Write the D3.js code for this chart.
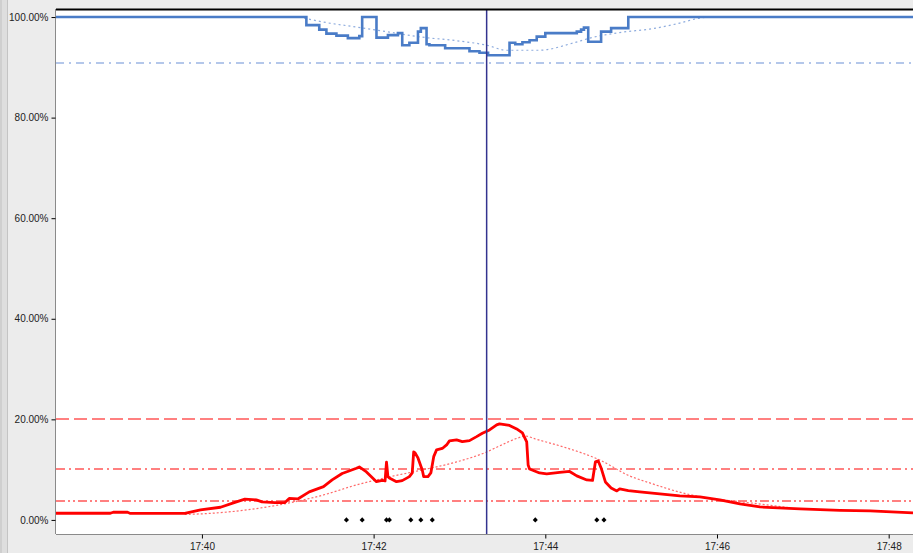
<!DOCTYPE html>
<html><head><meta charset="utf-8">
<script src="https://cdn.jsdelivr.net/npm/d3@7/dist/d3.min.js"></script>
<style>
html,body{margin:0;padding:0;background:#ececec;}
svg{display:block;font-family:"Liberation Sans",Arial,sans-serif;}
</style></head>
<body>
<svg id="chart" width="913" height="553"></svg>
<script>
// ---- data ----
const yTicks = [0, 20, 40, 60, 80, 100];
const xTickLabels = ["17:40", "17:42", "17:44", "17:46", "17:48"];
const timeDomain = ["17:38:18", "17:48:17"];
const cursorTime = "17:43:19";

// blue series (step)
const blueTimes = ["17:38:18","17:41:13","17:41:22","17:41:27","17:41:34","17:41:42","17:41:50","17:41:52","17:42:02","17:42:10","17:42:17","17:42:20","17:42:25","17:42:31","17:42:33","17:42:37","17:42:39","17:42:50","17:43:07","17:43:14","17:43:20","17:43:35","17:43:39","17:43:44","17:43:49","17:43:54","17:44:00","17:44:22","17:44:25","17:44:27","17:44:30","17:44:39","17:44:46","17:44:58","17:48:17"];
const blueValues = [100,98.4,97.5,96.7,96.3,95.8,96.2,100,95.9,96.4,96.8,94.4,94.9,97.1,97.8,94.6,94.4,93.8,93.2,92.9,92.4,94.9,94.6,95.0,95.4,96.1,96.8,97.1,97.5,97.9,95.1,97.1,97.8,100,100];

// blue trend (dotted)
const blueTrendTimes = ["17:41:08","17:41:25","17:41:48","17:42:11","17:42:34","17:42:58","17:43:19","17:43:33","17:43:56","17:44:19","17:44:31","17:44:54","17:45:13","17:45:34","17:45:48","17:45:55"];
const blueTrendValues = [100,99.0,98.0,97.0,96.0,95.3,94.4,93.4,93.4,94.8,95.8,97.0,97.6,98.8,99.8,100];

// red series
const redTimes = ["17:38:18","17:38:56","17:38:58","17:39:08","17:39:10","17:39:48","17:39:59","17:40:13","17:40:22","17:40:30","17:40:38","17:40:42","17:40:51","17:40:58","17:41:01","17:41:07","17:41:15","17:41:25","17:41:31","17:41:38","17:41:48","17:41:50","17:41:55","17:42:02","17:42:06","17:42:08","17:42:09","17:42:10","17:42:11","17:42:16","17:42:20","17:42:25","17:42:27","17:42:28","17:42:29","17:42:31","17:42:34","17:42:35","17:42:38","17:42:40","17:42:42","17:42:44","17:42:48","17:42:51","17:42:53","17:42:58","17:43:02","17:43:07","17:43:12","17:43:16","17:43:21","17:43:26","17:43:28","17:43:35","17:43:40","17:43:44","17:43:47","17:43:48","17:43:49","17:43:56","17:44:01","17:44:10","17:44:17","17:44:22","17:44:29","17:44:33","17:44:35","17:44:37","17:44:39","17:44:42","17:44:46","17:44:50","17:44:52","17:44:58","17:45:06","17:45:20","17:45:34","17:45:48","17:46:02","17:46:16","17:46:30","17:46:58","17:47:26","17:47:47","17:48:17"];
const redValues = [1.33,1.33,1.53,1.53,1.29,1.29,1.99,2.52,3.38,4.12,3.98,3.58,3.44,3.44,4.27,4.17,5.57,6.62,7.95,9.24,10.28,10.54,9.54,7.61,7.85,7.75,11.5,8.6,8.35,7.61,7.81,8.61,9.34,13.52,13.32,12.33,9.94,8.61,8.61,9.34,12.58,13.92,14.21,14.91,15.71,15.90,15.57,15.77,16.56,17.24,17.89,18.89,19.09,18.79,18.09,17.30,15.51,10.93,10.14,9.34,9.15,9.44,9.64,8.75,7.95,7.85,11.53,11.73,10.34,7.55,6.36,5.77,6.16,5.83,5.57,5.17,4.77,4.57,3.98,3.18,2.58,2.19,1.89,1.79,1.39];

// red trend (dotted)
const redTrendTimes = ["17:39:48","17:39:59","17:41:01","17:41:25","17:41:48","17:42:11","17:42:34","17:42:58","17:43:19","17:43:28","17:43:42","17:43:46","17:43:53","17:44:15","17:44:38","17:44:59","17:45:13","17:45:36","17:45:53","17:46:11","17:46:35","17:46:51"];
const redTrendValues = [1.1,1.2,3.38,4.97,6.96,8.55,9.94,11.53,13.52,14.71,16.4,16.7,16.1,14.31,11.93,8.75,7.36,5.37,4.37,3.78,2.98,2.39];

// event markers (diamonds on the 0% line)
const eventTimes = ["17:41:41","17:41:52","17:42:09","17:42:11","17:42:26","17:42:33","17:42:41","17:43:53","17:44:36","17:44:41"];

// horizontal reference levels
const blueLimit = 91.0;
const redLevels = [20, 10, 3.7];

// ---- drawing ----
const W = 913, H = 553;
const M = {left: 56, top: 9, right: 913, bottom: 534};
const parse = d3.timeParse("%H:%M:%S");
const parseHM = d3.timeParse("%H:%M");
const svg = d3.select("#chart");

const x = d3.scaleTime().domain(timeDomain.map(parse)).range([M.left, M.right]);
const y = d3.scaleLinear().domain([-2.8, 101.6]).range([M.bottom, M.top]);
const pair = v => 2 * Math.floor(v / 2) + 1;   // centre a 2px line on a pixel pair

// left side strip
svg.append("rect").attr("x",0).attr("y",0).attr("width",7).attr("height",H).attr("fill","#dedede");
svg.append("line").attr("x1",7.5).attr("x2",7.5).attr("y1",0).attr("y2",H).attr("stroke","#c4c4c4");
svg.append("rect").attr("x",0).attr("y",0).attr("width",2).attr("height",H).attr("fill","#cfcfcf");

// plot background
svg.append("rect").attr("x",M.left).attr("y",M.top).attr("width",M.right-M.left).attr("height",M.bottom-M.top).attr("fill","#ffffff");
svg.append("defs").append("clipPath").attr("id","clip").append("rect")
  .attr("x",M.left).attr("y",M.top+1).attr("width",M.right-M.left).attr("height",M.bottom-M.top-1);

const g = svg.append("g").attr("clip-path","url(#clip)");

// reference lines
g.append("line").attr("x1",M.left).attr("x2",M.right).attr("y1",pair(y(blueLimit))).attr("y2",pair(y(blueLimit)))
  .attr("stroke","#b4c7ea").attr("stroke-width",2).attr("stroke-dasharray","8,5,2,5");
const redDash = ["13,5", "9,4,2,4", "9,3,2,3,2,3"];
redLevels.forEach((v,i)=>{
  g.append("line").attr("x1",M.left).attr("x2",M.right).attr("y1",pair(y(v))).attr("y2",pair(y(v)))
    .attr("stroke","#ff8080").attr("stroke-width",2).attr("stroke-dasharray",redDash[i]);
});

const mk = (ts, vs) => ts.map((t,i)=>({t:parse(t), v:vs[i]}));
const lineStep = d3.line().x(d=>x(d.t)).y(d=>y(d.v)).curve(d3.curveStepAfter);

// trends
g.append("path").datum(mk(blueTrendTimes, blueTrendValues)).attr("d", d3.line().x(d=>x(d.t)).y(d=>y(d.v)).curve(d3.curveMonotoneX))
  .attr("fill","none").attr("stroke","#8eacde").attr("stroke-width",1.2).attr("stroke-dasharray","2,3");
g.append("path").datum(mk(redTrendTimes, redTrendValues)).attr("d", d3.line().x(d=>x(d.t)).y(d=>y(d.v)).curve(d3.curveMonotoneX))
  .attr("fill","none").attr("stroke","#ff6a6a").attr("stroke-width",1.2).attr("stroke-dasharray","2,2");

// main series
g.append("path").datum(mk(blueTimes, blueValues)).attr("d", lineStep)
  .attr("fill","none").attr("stroke","#4a7cc7").attr("stroke-width",2.6);
g.append("path").datum(mk(redTimes, redValues)).attr("d", d3.line().x(d=>x(d.t)).y(d=>y(d.v)))
  .attr("fill","none").attr("stroke","#ff0000").attr("stroke-width",2.8).attr("stroke-linejoin","round");

// cursor
g.append("line").attr("x1",x(parse(cursorTime))).attr("x2",x(parse(cursorTime)))
  .attr("y1",M.top).attr("y2",M.bottom).attr("stroke","#33338f").attr("stroke-width",1.5);

// event diamonds
g.selectAll("path.ev").data(eventTimes).join("path").attr("class","ev")
  .attr("d", d3.symbol(d3.symbolSquare, 13))
  .attr("transform", d=>`translate(${x(parse(d))},${y(0)}) rotate(45)`).attr("fill","#000");

// borders
svg.append("line").attr("x1",M.left).attr("x2",M.right).attr("y1",M.top+0.5).attr("y2",M.top+0.5).attr("stroke","#000").attr("stroke-width",2);
svg.append("line").attr("x1",M.left-0.5).attr("x2",M.left-0.5).attr("y1",M.top).attr("y2",M.bottom).attr("stroke","#8a8a8a");
svg.append("line").attr("x1",M.left).attr("x2",M.right).attr("y1",M.bottom+0.5).attr("y2",M.bottom+0.5).attr("stroke","#8a8a8a");

// axes
const yAxis = d3.axisLeft(y).tickValues(yTicks).tickSize(4).tickPadding(3).tickFormat(d=>d3.format(".2f")(d)+"%");
const ya = svg.append("g").attr("transform",`translate(${M.left-0.5},0)`).call(yAxis);
ya.select(".domain").remove();
ya.selectAll("line").attr("stroke","#000");
ya.selectAll("text").attr("font-size",10).attr("fill","#222").attr("font-family","'Liberation Sans',Arial,sans-serif");

const xAxis = d3.axisBottom(x).tickValues(xTickLabels.map(parseHM)).tickSize(4).tickPadding(4).tickFormat(d3.timeFormat("%H:%M"));
const xa = svg.append("g").attr("transform",`translate(0,${M.bottom+0.5})`).call(xAxis);
xa.select(".domain").remove();
xa.selectAll("line").attr("stroke","#000");
xa.selectAll("text").attr("font-size",10).attr("fill","#222").attr("font-family","'Liberation Sans',Arial,sans-serif");
</script>
</body></html>
